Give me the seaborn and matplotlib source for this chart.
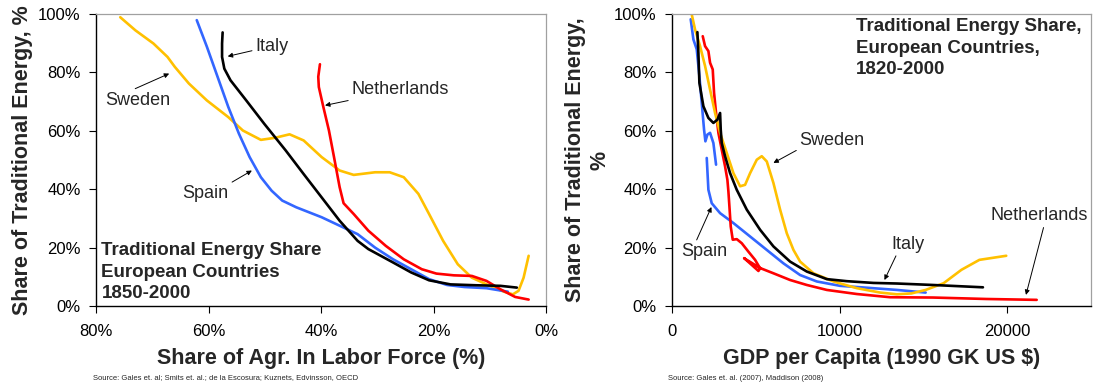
#%% Bibliotecas
import matplotlib
matplotlib.use("Agg")
import matplotlib.pyplot as plt
import seaborn as sns

#%% Dados - painel esquerdo (participacao da agricultura na forca de trabalho, %)
sweden_agr = [75.7, 73.0, 69.8, 67.3, 66.0, 63.5, 60.3, 56.5, 53.9, 50.7, 48.2, 45.6, 43.1, 39.9, 36.7,
              34.2, 30.4, 27.8, 25.3, 22.7, 20.8, 18.3, 15.7, 13.2, 10.0, 7.5, 5.9, 4.9, 4.0, 3.1]
sweden_te = [98.9, 94.4, 89.9, 85.3, 81.9, 76.2, 70.4, 64.7, 60.1, 56.9, 57.6, 58.8, 56.7, 51.0, 46.4,
             44.9, 45.8, 45.8, 44.1, 38.4, 31.5, 22.3, 14.3, 9.7, 6.9, 4.9, 4.0, 5.2, 9.7, 17.2]

spain_agr = [62.1, 60.3, 58.4, 56.5, 54.6, 52.7, 50.7, 48.8, 46.9, 44.4, 39.9, 33.5, 30.4, 27.2, 24.0,
             20.8, 17.6, 14.5, 10.6, 6.8]
spain_te = [97.9, 88.8, 78.5, 68.2, 59.0, 51.0, 44.1, 39.5, 36.1, 33.8, 30.4, 24.6, 20.0, 16.0, 12.6,
            9.2, 7.2, 6.5, 6.1, 4.9]

italy_agr = [57.5, 57.6, 57.6, 57.2, 56.1, 53.3, 50.1, 46.3, 43.1, 39.9, 36.7, 33.5, 31.6, 27.2, 24.0,
             20.8, 17.0, 12.5, 8.1, 5.2]
italy_te = [93.7, 89.9, 85.3, 81.3, 77.3, 70.4, 62.4, 53.3, 45.2, 37.2, 29.2, 22.3, 19.5, 14.9, 11.5,
            8.8, 7.4, 7.1, 6.9, 6.3]

neth_agr = [40.2, 40.5, 40.4, 39.6, 38.6, 37.7, 36.7, 36.0, 34.2, 31.6, 28.5, 25.3, 22.1, 19.5, 16.4,
            13.2, 10.6, 8.1, 5.5, 3.1]
neth_te = [82.8, 78.5, 75.0, 68.2, 60.1, 51.0, 40.7, 35.2, 31.5, 25.8, 20.6, 16.0, 12.6, 11.1, 10.5,
           10.3, 8.6, 5.7, 3.1, 2.2]

#%% Dados - painel direito (PIB per capita, 1990 GK US $)
spain_gdp_a = [1114, 1274, 1473, 1632, 1771, 1910, 1990, 2109, 2268, 2467, 2626]
spain_te_a = [98.2, 91.3, 87.9, 78.7, 69.6, 60.4, 56.4, 58.7, 59.3, 55.8, 48.4]
spain_gdp_b = [2070, 2169, 2368, 2866, 3662, 4657, 5652, 6647, 7642, 8637, 10030, 11283, 13420, 15130]
spain_te_b = [50.7, 39.8, 35.2, 31.8, 28.4, 23.8, 19.2, 14.6, 10.6, 8.4, 6.9, 6.4, 5.5, 4.6]

italy_gdp = [1512, 1572, 1632, 1871, 2169, 2467, 2706, 2866, 2905, 2965, 3164, 3463, 3861, 4458, 5254,
             6050, 7045, 8040, 9234, 10428, 12020, 13420, 15560, 18549]
italy_te2 = [93.8, 86.7, 76.4, 68.4, 64.4, 62.7, 63.8, 66.1, 60.4, 55.8, 51.3, 45.5, 39.8, 33.0, 26.1,
             20.4, 15.2, 11.8, 9.2, 8.5, 7.9, 7.7, 7.2, 6.4]

sweden_gdp = [1174, 1373, 1672, 1970, 2269, 2567, 2866, 3264, 3662, 4060, 4358, 4657, 5055, 5353, 5652,
              6050, 6448, 6846, 7244, 7642, 8438, 9632, 11025, 12418, 13420, 14275, 15130, 16200, 17267,
              18335, 19938]
sweden_te2 = [99.9, 94.7, 89.0, 82.2, 74.1, 66.1, 59.3, 52.4, 45.5, 41.0, 41.5, 45.5, 50.1, 51.3, 49.5,
              42.1, 33.0, 24.9, 19.2, 15.2, 11.2, 8.4, 6.1, 4.6, 4.0, 4.3, 5.5, 7.8, 12.4, 15.8, 17.2]

neth_gdp = [1831, 1970, 2169, 2269, 2428, 2507, 2627, 2766, 2965, 3164, 3303, 3363, 3423, 3502, 3622,
            3861, 4159, 4557, 4955, 5254, 5154, 4299, 4400, 5254, 6050, 7045, 8040, 9234, 11025, 13015,
            15560, 18763, 21755]
neth_te2 = [92.4, 89.0, 87.3, 83.3, 81.0, 73.0, 66.1, 59.3, 53.5, 47.8, 43.2, 39.2, 34.1, 27.2, 22.7,
            22.9, 21.5, 18.6, 15.8, 12.9, 12.0, 16.4, 16.0, 13.0, 11.2, 8.9, 7.2, 5.5, 4.1, 3.0,
            2.9, 2.4, 2.1]

pct_ticks = [0, 20, 40, 60, 80, 100]
agr_ticks = [80, 60, 40, 20, 0]
gdp_ticks = [0, 10000, 20000]

#%% Estilo
sns.set_theme(style="ticks")
plt.rcParams["font.family"] = ["Liberation Sans", "DejaVu Sans"]

cores = {"Sweden": "#FFC000", "Spain": "#3366FF", "Italy": "#000000", "Netherlands": "#FF0000"}
lw = 1.9
seta = dict(arrowstyle="-|>", color="black", lw=0.7, mutation_scale=7, shrinkA=0, shrinkB=0)

fig = plt.figure(figsize=(10.99, 3.85), dpi=100)
ax1 = fig.add_axes([0.0874, 0.2052, 0.4095, 0.7584])
ax2 = fig.add_axes([0.6115, 0.2052, 0.3813, 0.7584])


def estilo_eixo(ax):
    for lado in ["top", "right"]:
        ax.spines[lado].set_visible(True)
        ax.spines[lado].set_color("#a0a0a0")
        ax.spines[lado].set_linewidth(0.9)
    for lado in ["left", "bottom"]:
        ax.spines[lado].set_color("black")
        ax.spines[lado].set_linewidth(1.0)
    ax.tick_params(axis="both", direction="out", length=5, width=0.8, color="black",
                   labelsize=12, labelcolor="black")
    ax.tick_params(axis="x", pad=8)
    ax.tick_params(axis="y", pad=6)
    ax.set_yticks(pct_ticks)
    ax.set_yticklabels([f"{v}%" for v in pct_ticks])
    ax.set_ylim(0, 100)


#%% Painel esquerdo
sns.lineplot(x=sweden_agr, y=sweden_te, sort=False, estimator=None, color=cores["Sweden"], lw=lw, ax=ax1)
sns.lineplot(x=spain_agr, y=spain_te, sort=False, estimator=None, color=cores["Spain"], lw=lw, ax=ax1)
sns.lineplot(x=neth_agr, y=neth_te, sort=False, estimator=None, color=cores["Netherlands"], lw=lw, ax=ax1)
sns.lineplot(x=italy_agr, y=italy_te, sort=False, estimator=None, color=cores["Italy"], lw=lw, ax=ax1)

estilo_eixo(ax1)
ax1.set_xlim(80, 0)
ax1.set_xticks(agr_ticks)
ax1.set_xticklabels([f"{v}%" for v in agr_ticks])
ax1.set_xlabel("Share of Agr. In Labor Force (%)", fontsize=15.5, fontweight="bold")
ax1.set_ylabel("Share of Traditional Energy, %", fontsize=15.5, fontweight="bold")
ax1.xaxis.set_label_coords(0.5, -0.145)
ax1.yaxis.set_label_coords(-0.14, 0.5)

ax1.annotate("Italy", xy=(56.6, 85.5), xytext=(51.7, 89.0), fontsize=13, ha="left", va="center",
             arrowprops=seta)
ax1.annotate("Sweden", xy=(67.0, 79.6), xytext=(78.4, 70.4), fontsize=13, ha="left", va="center",
             arrowprops=dict(seta, relpos=(0.35, 1.0)))
ax1.annotate("Netherlands", xy=(39.3, 68.7), xytext=(34.6, 74.1), fontsize=13, ha="left", va="center",
             arrowprops=seta)
ax1.annotate("Spain", xy=(52.3, 46.4), xytext=(64.6, 38.4), fontsize=13, ha="left", va="center",
             arrowprops=dict(seta, relpos=(0.95, 1.0)))
ax1.text(0.012, 0.012, "Traditional Energy Share\nEuropean Countries\n1850-2000", transform=ax1.transAxes,
         fontsize=13.5, fontweight="bold", ha="left", va="bottom", linespacing=1.35)

#%% Painel direito
sns.lineplot(x=spain_gdp_a, y=spain_te_a, sort=False, estimator=None, color=cores["Spain"], lw=lw, ax=ax2)
sns.lineplot(x=spain_gdp_b, y=spain_te_b, sort=False, estimator=None, color=cores["Spain"], lw=lw, ax=ax2)
sns.lineplot(x=neth_gdp, y=neth_te2, sort=False, estimator=None, color=cores["Netherlands"], lw=lw, ax=ax2)
sns.lineplot(x=sweden_gdp, y=sweden_te2, sort=False, estimator=None, color=cores["Sweden"], lw=lw, ax=ax2)
sns.lineplot(x=italy_gdp, y=italy_te2, sort=False, estimator=None, color=cores["Italy"], lw=lw, ax=ax2)

estilo_eixo(ax2)
ax2.set_xlim(0, 25000)
ax2.set_xticks(gdp_ticks)
ax2.set_xticklabels([str(v) for v in gdp_ticks])
ax2.set_xlabel("GDP per Capita (1990 GK US $)", fontsize=15.5, fontweight="bold")
ax2.set_ylabel("Share of Traditional Energy,\n%", fontsize=15.5, fontweight="bold")
ax2.xaxis.set_label_coords(0.5, -0.145)
ax2.yaxis.set_label_coords(-0.148, 0.5)

ax2.annotate("Sweden", xy=(6048, 49.0), xytext=(7608, 56.8), fontsize=13, ha="left", va="center",
             arrowprops=dict(seta, relpos=(0.0, 0.0)))
ax2.annotate("Italy", xy=(12672, 8.9), xytext=(13057, 21.2), fontsize=13, ha="left", va="center",
             arrowprops=dict(seta, relpos=(0.2, 0.0)))
ax2.annotate("Netherlands", xy=(21114, 3.8), xytext=(19019, 30.9), fontsize=13, ha="left", va="center",
             arrowprops=dict(seta, relpos=(0.55, 0.0)))
ax2.annotate("Spain", xy=(2351, 33.9), xytext=(556, 18.6), fontsize=13, ha="left", va="center",
             arrowprops=dict(seta, relpos=(0.3, 1.0)))
ax2.text(0.438, 0.985, "Traditional Energy Share,\nEuropean Countries,\n1820-2000", transform=ax2.transAxes,
         fontsize=13.5, fontweight="bold", ha="left", va="top", linespacing=1.35)

#%% Fontes
fig.text(93 / 1099, 1 - 378 / 385, "Source: Gales et. al; Smits et. al.; de la Escosura; Kuznets, Edvinsson, OECD",
         fontsize=5.5, va="center", ha="left")
fig.text(668 / 1099, 1 - 378 / 385, "Source: Gales et. al. (2007), Maddison (2008)",
         fontsize=5.5, va="center", ha="left")

fig.savefig("out.png", dpi=100)
